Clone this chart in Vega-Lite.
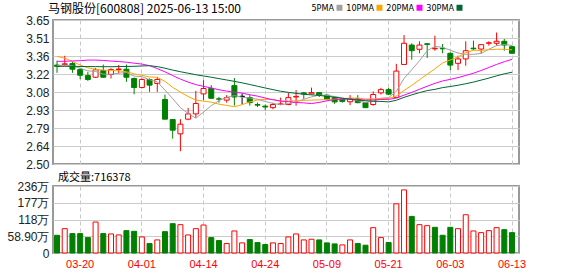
{
  "$schema": "https://vega.github.io/schema/vega-lite/v6.json",
  "background": "white",
  "padding": {"left": 5, "top": 2, "right": 5, "bottom": 2},
  "bounds": "flush",
  "spacing": 22,
  "config": {
    "font": "Liberation Sans",
    "view": {"stroke": "#999999", "strokeWidth": 2},
    "axis": {"labelFont": "Liberation Sans", "labelOverlap": false, "ticks": false, "domain": false, "title": null},
    "axisY": {"labelOverlap": false}
  },
  "datasets": {
    "k": [
      {"date": "2025-03-17", "open": 3.29, "high": 3.325, "low": 3.228, "close": 3.28, "pre_close": 3.30, "volume": 623000, "ma5": 3.285, "ma10": 3.36, "ma20": 3.32, "ma30": 3.28},
      {"date": "2025-03-18", "open": 3.294, "high": 3.364, "low": 3.284, "close": 3.30, "pre_close": 3.28, "volume": 856000, "ma5": 3.29, "ma10": 3.345, "ma20": 3.32, "ma30": 3.28},
      {"date": "2025-03-19", "open": 3.302, "high": 3.316, "low": 3.228, "close": 3.257, "pre_close": 3.30, "volume": 682000, "ma5": 3.285, "ma10": 3.32, "ma20": 3.323, "ma30": 3.28},
      {"date": "2025-03-20", "open": 3.254, "high": 3.268, "low": 3.177, "close": 3.209, "pre_close": 3.257, "volume": 682000, "ma5": 3.265, "ma10": 3.29, "ma20": 3.325, "ma30": 3.279},
      {"date": "2025-03-21", "open": 3.206, "high": 3.236, "low": 3.164, "close": 3.175, "pre_close": 3.209, "volume": 542000, "ma5": 3.244, "ma10": 3.268, "ma20": 3.33, "ma30": 3.278},
      {"date": "2025-03-24", "open": 3.193, "high": 3.268, "low": 3.188, "close": 3.252, "pre_close": 3.175, "volume": 1089000, "ma5": 3.239, "ma10": 3.257, "ma20": 3.33, "ma30": 3.278},
      {"date": "2025-03-25", "open": 3.246, "high": 3.294, "low": 3.19, "close": 3.193, "pre_close": 3.252, "volume": 682000, "ma5": 3.217, "ma10": 3.25, "ma20": 3.327, "ma30": 3.277},
      {"date": "2025-03-26", "open": 3.215, "high": 3.265, "low": 3.183, "close": 3.254, "pre_close": 3.193, "volume": 670000, "ma5": 3.217, "ma10": 3.248, "ma20": 3.322, "ma30": 3.277},
      {"date": "2025-03-27", "open": 3.255, "high": 3.29, "low": 3.222, "close": 3.258, "pre_close": 3.254, "volume": 635000, "ma5": 3.226, "ma10": 3.244, "ma20": 3.318, "ma30": 3.278},
      {"date": "2025-03-28", "open": 3.257, "high": 3.294, "low": 3.156, "close": 3.193, "pre_close": 3.258, "volume": 786000, "ma5": 3.23, "ma10": 3.237, "ma20": 3.313, "ma30": 3.279},
      {"date": "2025-03-31", "open": 3.183, "high": 3.19, "low": 3.057, "close": 3.111, "pre_close": 3.193, "volume": 763000, "ma5": 3.202, "ma10": 3.22, "ma20": 3.305, "ma30": 3.28},
      {"date": "2025-04-01", "open": 3.111, "high": 3.183, "low": 3.103, "close": 3.175, "pre_close": 3.111, "volume": 565000, "ma5": 3.198, "ma10": 3.208, "ma20": 3.298, "ma30": 3.283},
      {"date": "2025-04-02", "open": 3.175, "high": 3.183, "low": 3.076, "close": 3.13, "pre_close": 3.175, "volume": 332000, "ma5": 3.173, "ma10": 3.195, "ma20": 3.285, "ma30": 3.285},
      {"date": "2025-04-03", "open": 3.143, "high": 3.196, "low": 3.076, "close": 3.175, "pre_close": 3.13, "volume": 460000, "ma5": 3.157, "ma10": 3.192, "ma20": 3.262, "ma30": 3.278},
      {"date": "2025-04-07", "open": 3.015, "high": 3.055, "low": 2.858, "close": 2.858, "pre_close": 3.175, "volume": 751000, "ma5": 3.09, "ma10": 3.16, "ma20": 3.236, "ma30": 3.265},
      {"date": "2025-04-08", "open": 2.855, "high": 2.855, "low": 2.703, "close": 2.77, "pre_close": 2.858, "volume": 1031000, "ma5": 3.022, "ma10": 3.112, "ma20": 3.206, "ma30": 3.25},
      {"date": "2025-04-09", "open": 2.741, "high": 2.858, "low": 2.602, "close": 2.818, "pre_close": 2.77, "volume": 996000, "ma5": 2.95, "ma10": 3.074, "ma20": 3.178, "ma30": 3.237},
      {"date": "2025-04-10", "open": 2.858, "high": 2.948, "low": 2.85, "close": 2.90, "pre_close": 2.818, "volume": 635000, "ma5": 2.904, "ma10": 3.039, "ma20": 3.154, "ma30": 3.225},
      {"date": "2025-04-11", "open": 2.90, "high": 3.084, "low": 2.868, "close": 2.983, "pre_close": 2.90, "volume": 856000, "ma5": 2.866, "ma10": 3.011, "ma20": 3.134, "ma30": 3.213},
      {"date": "2025-04-14", "open": 3.06, "high": 3.17, "low": 3.01, "close": 3.103, "pre_close": 2.983, "volume": 984000, "ma5": 2.915, "ma10": 3.002, "ma20": 3.12, "ma30": 3.203},
      {"date": "2025-04-15", "open": 3.104, "high": 3.13, "low": 3.02, "close": 3.025, "pre_close": 3.103, "volume": 542000, "ma5": 2.966, "ma10": 2.994, "ma20": 3.107, "ma30": 3.193},
      {"date": "2025-04-16", "open": 3.02, "high": 3.036, "low": 2.99, "close": 3.018, "pre_close": 3.025, "volume": 437000, "ma5": 3.006, "ma10": 2.978, "ma20": 3.093, "ma30": 3.182},
      {"date": "2025-04-17", "open": 3.01, "high": 3.05, "low": 2.99, "close": 3.03, "pre_close": 3.018, "volume": 332000, "ma5": 3.032, "ma10": 2.968, "ma20": 3.082, "ma30": 3.171},
      {"date": "2025-04-18", "open": 3.126, "high": 3.187, "low": 2.966, "close": 3.035, "pre_close": 3.03, "volume": 775000, "ma5": 3.046, "ma10": 2.957, "ma20": 3.074, "ma30": 3.16},
      {"date": "2025-04-21", "open": 3.04, "high": 3.063, "low": 2.975, "close": 3.04, "pre_close": 3.035, "volume": 355000, "ma5": 3.033, "ma10": 2.974, "ma20": 3.066, "ma30": 3.148},
      {"date": "2025-04-22", "open": 3.03, "high": 3.05, "low": 2.966, "close": 2.99, "pre_close": 3.04, "volume": 472000, "ma5": 3.027, "ma10": 2.996, "ma20": 3.053, "ma30": 3.135},
      {"date": "2025-04-23", "open": 2.975, "high": 2.99, "low": 2.955, "close": 2.97, "pre_close": 2.99, "volume": 367000, "ma5": 3.017, "ma10": 3.011, "ma20": 3.042, "ma30": 3.121},
      {"date": "2025-04-24", "open": 2.962, "high": 2.975, "low": 2.93, "close": 2.955, "pre_close": 2.97, "volume": 297000, "ma5": 2.999, "ma10": 3.016, "ma20": 3.027, "ma30": 3.107},
      {"date": "2025-04-25", "open": 2.95, "high": 2.99, "low": 2.937, "close": 2.975, "pre_close": 2.955, "volume": 355000, "ma5": 2.984, "ma10": 3.016, "ma20": 3.013, "ma30": 3.094},
      {"date": "2025-04-28", "open": 2.975, "high": 3.03, "low": 2.97, "close": 2.98, "pre_close": 2.975, "volume": 332000, "ma5": 2.974, "ma10": 3.002, "ma20": 3.002, "ma30": 3.081},
      {"date": "2025-04-29", "open": 2.975, "high": 3.068, "low": 2.97, "close": 3.03, "pre_close": 2.98, "volume": 565000, "ma5": 2.982, "ma10": 3.003, "ma20": 2.998, "ma30": 3.072},
      {"date": "2025-04-30", "open": 3.035, "high": 3.09, "low": 2.966, "close": 3.04, "pre_close": 3.03, "volume": 670000, "ma5": 2.996, "ma10": 3.005, "ma20": 2.992, "ma30": 3.064},
      {"date": "2025-05-06", "open": 3.068, "high": 3.075, "low": 3.02, "close": 3.06, "pre_close": 3.04, "volume": 460000, "ma5": 3.017, "ma10": 3.008, "ma20": 2.988, "ma30": 3.057},
      {"date": "2025-05-07", "open": 3.06, "high": 3.11, "low": 3.055, "close": 3.07, "pre_close": 3.06, "volume": 483000, "ma5": 3.036, "ma10": 3.01, "ma20": 2.983, "ma30": 3.052},
      {"date": "2025-05-08", "open": 3.07, "high": 3.07, "low": 3.035, "close": 3.05, "pre_close": 3.07, "volume": 460000, "ma5": 3.05, "ma10": 3.012, "ma20": 2.992, "ma30": 3.048},
      {"date": "2025-05-09", "open": 3.05, "high": 3.055, "low": 3.01, "close": 3.018, "pre_close": 3.05, "volume": 355000, "ma5": 3.048, "ma10": 3.015, "ma20": 3.005, "ma30": 3.04},
      {"date": "2025-05-12", "open": 3.03, "high": 3.035, "low": 2.98, "close": 2.996, "pre_close": 3.018, "volume": 320000, "ma5": 3.039, "ma10": 3.017, "ma20": 3.014, "ma30": 3.034},
      {"date": "2025-05-13", "open": 3.018, "high": 3.023, "low": 2.99, "close": 3.0, "pre_close": 2.996, "volume": 285000, "ma5": 3.027, "ma10": 3.022, "ma20": 3.018, "ma30": 3.025},
      {"date": "2025-05-14", "open": 2.997, "high": 3.05, "low": 2.97, "close": 3.02, "pre_close": 3.0, "volume": 460000, "ma5": 3.017, "ma10": 3.026, "ma20": 3.02, "ma30": 3.017},
      {"date": "2025-05-15", "open": 3.02, "high": 3.05, "low": 2.985, "close": 2.99, "pre_close": 3.02, "volume": 332000, "ma5": 3.005, "ma10": 3.027, "ma20": 3.015, "ma30": 3.011},
      {"date": "2025-05-16", "open": 2.99, "high": 2.99, "low": 2.95, "close": 2.95, "pre_close": 2.99, "volume": 274000, "ma5": 2.991, "ma10": 3.019, "ma20": 3.011, "ma30": 3.005},
      {"date": "2025-05-19", "open": 2.975, "high": 3.08, "low": 2.966, "close": 3.055, "pre_close": 2.95, "volume": 891000, "ma5": 3.003, "ma10": 3.021, "ma20": 3.012, "ma30": 3.001},
      {"date": "2025-05-20", "open": 3.068, "high": 3.108, "low": 3.055, "close": 3.094, "pre_close": 3.055, "volume": 542000, "ma5": 3.025, "ma10": 3.024, "ma20": 3.015, "ma30": 3.0},
      {"date": "2025-05-21", "open": 3.094, "high": 3.108, "low": 3.05, "close": 3.058, "pre_close": 3.094, "volume": 367000, "ma5": 3.03, "ma10": 3.023, "ma20": 3.016, "ma30": 2.996},
      {"date": "2025-05-22", "open": 3.03, "high": 3.30, "low": 3.03, "close": 3.242, "pre_close": 3.058, "volume": 1730000, "ma5": 3.08, "ma10": 3.042, "ma20": 3.027, "ma30": 3.009},
      {"date": "2025-05-23", "open": 3.295, "high": 3.53, "low": 3.295, "close": 3.464, "pre_close": 3.242, "volume": 2219000, "ma5": 3.183, "ma10": 3.087, "ma20": 3.05, "ma30": 3.032},
      {"date": "2025-05-26", "open": 3.45, "high": 3.464, "low": 3.333, "close": 3.405, "pre_close": 3.464, "volume": 1287000, "ma5": 3.253, "ma10": 3.128, "ma20": 3.072, "ma30": 3.052},
      {"date": "2025-05-27", "open": 3.416, "high": 3.48, "low": 3.384, "close": 3.45, "pre_close": 3.405, "volume": 996000, "ma5": 3.324, "ma10": 3.173, "ma20": 3.097, "ma30": 3.07},
      {"date": "2025-05-28", "open": 3.46, "high": 3.466, "low": 3.347, "close": 3.455, "pre_close": 3.45, "volume": 961000, "ma5": 3.405, "ma10": 3.217, "ma20": 3.121, "ma30": 3.086},
      {"date": "2025-05-29", "open": 3.42, "high": 3.525, "low": 3.405, "close": 3.424, "pre_close": 3.455, "volume": 903000, "ma5": 3.44, "ma10": 3.26, "ma20": 3.144, "ma30": 3.096},
      {"date": "2025-05-30", "open": 3.424, "high": 3.458, "low": 3.384, "close": 3.42, "pre_close": 3.424, "volume": 623000, "ma5": 3.431, "ma10": 3.307, "ma20": 3.163, "ma30": 3.11},
      {"date": "2025-06-03", "open": 3.384, "high": 3.392, "low": 3.25, "close": 3.29, "pre_close": 3.42, "volume": 903000, "ma5": 3.409, "ma10": 3.331, "ma20": 3.176, "ma30": 3.119},
      {"date": "2025-06-04", "open": 3.304, "high": 3.365, "low": 3.25, "close": 3.339, "pre_close": 3.29, "volume": 856000, "ma5": 3.386, "ma10": 3.355, "ma20": 3.19, "ma30": 3.129},
      {"date": "2025-06-05", "open": 3.339, "high": 3.48, "low": 3.285, "close": 3.405, "pre_close": 3.339, "volume": 1346000, "ma5": 3.376, "ma10": 3.39, "ma20": 3.207, "ma30": 3.141},
      {"date": "2025-06-06", "open": 3.425, "high": 3.485, "low": 3.41, "close": 3.42, "pre_close": 3.405, "volume": 775000, "ma5": 3.376, "ma10": 3.408, "ma20": 3.225, "ma30": 3.154},
      {"date": "2025-06-09", "open": 3.418, "high": 3.453, "low": 3.384, "close": 3.453, "pre_close": 3.42, "volume": 716000, "ma5": 3.383, "ma10": 3.407, "ma20": 3.247, "ma30": 3.17},
      {"date": "2025-06-10", "open": 3.464, "high": 3.48, "low": 3.445, "close": 3.468, "pre_close": 3.453, "volume": 786000, "ma5": 3.417, "ma10": 3.413, "ma20": 3.271, "ma30": 3.186},
      {"date": "2025-06-11", "open": 3.464, "high": 3.55, "low": 3.445, "close": 3.48, "pre_close": 3.468, "volume": 891000, "ma5": 3.445, "ma10": 3.416, "ma20": 3.295, "ma30": 3.204},
      {"date": "2025-06-12", "open": 3.48, "high": 3.498, "low": 3.405, "close": 3.45, "pre_close": 3.48, "volume": 821000, "ma5": 3.454, "ma10": 3.416, "ma20": 3.317, "ma30": 3.22},
      {"date": "2025-06-13", "open": 3.437, "high": 3.445, "low": 3.384, "close": 3.384, "pre_close": 3.45, "volume": 716378, "ma5": 3.447, "ma10": 3.412, "ma20": 3.336, "ma30": 3.233}
    ]
  },
  "data": {"name": "k"},
  "vconcat": [
    {
      "width": 466,
      "height": 144,
      "title": {"text": "马钢股份[600808] 2025-06-13 15:00", "anchor": "start", "frame": "group", "dx": -5, "offset": -2, "fontSize": 12, "fontWeight": "normal", "font": "Noto Sans CJK SC", "color": "#000000"},
      "encoding": {
        "x": {
          "field": "date", "type": "ordinal", "sort": null,
          "scale": {"type": "band", "paddingInner": 0, "paddingOuter": 0.214, "align": 0.05},
          "axis": {"values": ["2025-03-20", "2025-04-01", "2025-04-14", "2025-04-24", "2025-05-09", "2025-05-21", "2025-06-03", "2025-06-13"], "bandPosition": 0.5, "labels": false, "grid": true, "gridDash": [4, 3], "gridColor": "#c8c8c8", "gridWidth": 1}
        }
      },
      "layer": [
        {
          "mark": {"type": "rule", "strokeWidth": 1},
          "encoding": {
            "y": {"field": "low", "type": "quantitative", "scale": {"domain": [2.5, 3.65], "nice": false, "zero": false},
              "axis": {"values": [2.5, 2.64375, 2.7875, 2.93125, 3.075, 3.21875, 3.3625, 3.50625, 3.65], "labelExpr": "format(datum.value + 0.0001, '.2f')", "labelOverlap": false, "labelSeparation": 0, "grid": true, "gridColor": "#cccccc", "labelFontSize": 12, "labelColor": "#222222", "labelPadding": 4}},
            "y2": {"field": "high"},
            "color": {"condition": [{"test": "datum.close > datum.open", "value": "#ff0000"}, {"test": "datum.close < datum.open", "value": "#008000"}], "value": "#000000"}
          }
        },
        {
          "mark": {"type": "bar", "size": 5, "strokeWidth": 1},
          "encoding": {
            "y": {"field": "open", "type": "quantitative", "scale": {"domain": [2.5, 3.65], "nice": false, "zero": false},
              "axis": {"values": [2.5, 2.64375, 2.7875, 2.93125, 3.075, 3.21875, 3.3625, 3.50625, 3.65], "labelExpr": "format(datum.value + 0.0001, '.2f')", "labelOverlap": false, "labelSeparation": 0, "grid": true, "gridColor": "#cccccc", "labelFontSize": 12, "labelColor": "#222222", "labelPadding": 4}},
            "y2": {"field": "close"},
            "fill": {"condition": [{"test": "datum.close > datum.open", "value": "#ffffff"}, {"test": "datum.close < datum.open", "value": "#008000"}], "value": "#000000"},
            "stroke": {"condition": [{"test": "datum.close > datum.open", "value": "#ff0000"}, {"test": "datum.close < datum.open", "value": "#008000"}], "value": "#000000"}
          }
        },
        {
          "transform": [{"fold": ["ma5", "ma10", "ma20", "ma30"], "as": ["ma", "val"]}],
          "mark": {"type": "line", "strokeWidth": 1},
          "encoding": {
            "y": {"field": "val", "type": "quantitative", "scale": {"domain": [2.5, 3.65], "nice": false, "zero": false},
              "axis": {"values": [2.5, 2.64375, 2.7875, 2.93125, 3.075, 3.21875, 3.3625, 3.50625, 3.65], "labelExpr": "format(datum.value + 0.0001, '.2f')", "labelOverlap": false, "labelSeparation": 0, "grid": true, "gridColor": "#cccccc", "labelFontSize": 12, "labelColor": "#222222", "labelPadding": 4}},
            "color": {
              "field": "ma", "type": "nominal",
              "scale": {"domain": ["ma5", "ma10", "ma20", "ma30"], "range": ["#a0a0a0", "#ffa500", "#ff00ff", "#006633"]},
              "legend": {
                "orient": "none", "legendX": 282, "legendY": -17, "direction": "horizontal", "title": null,
                "labelExpr": "datum.label == 'ma5' ? '5PMA' : datum.label == 'ma10' ? '10PMA' : datum.label == 'ma20' ? '20PMA' : '30PMA'",
                "symbolType": "square", "symbolSize": 36, "symbolStrokeWidth": 0,
                "labelAlign": "right", "labelOffset": -10, "labelFontSize": 9,
                "labelFont": "DejaVu Sans Condensed, Liberation Sans",
                "labelColor": "#000000", "columnPadding": 3,
                "encode": {"symbols": {"update": {"fill": {"scale": "color", "field": "value"}}}}
              }
            }
          }
        }
      ]
    },
    {
      "width": 466,
      "height": 67,
      "title": {"text": "成交量:716378", "anchor": "start", "frame": "group", "dx": 5, "dy": 7, "offset": 4, "fontSize": 11, "fontWeight": "normal", "font": "Noto Sans CJK SC", "color": "#000000"},
      "mark": {"type": "bar", "size": 5, "strokeWidth": 1},
      "encoding": {
        "x": {
          "field": "date", "type": "ordinal", "sort": null,
          "scale": {"type": "band", "paddingInner": 0, "paddingOuter": 0.214, "align": 0.05},
          "axis": {"values": ["2025-03-20", "2025-04-01", "2025-04-14", "2025-04-24", "2025-05-09", "2025-05-21", "2025-06-03", "2025-06-13"], "bandPosition": 0.5, "labelExpr": "slice(datum.value, 5)", "labelAngle": 0, "labelColor": "#ff0000", "labelFontSize": 11, "labelPadding": 5, "grid": true, "gridDash": [4, 3], "gridColor": "#c8c8c8", "gridWidth": 1}
        },
        "y": {
          "field": "volume", "type": "quantitative", "scale": {"domain": [0, 2356000], "nice": false},
          "axis": {"values": [0, 589000, 1178000, 1767000, 2356000], "labelExpr": "datum.value == 0 ? '0' : datum.value == 589000 ? '58.90万' : format(datum.value / 10000, '.0f') + '万'", "labelOverlap": false, "grid": true, "gridColor": "#cccccc", "labelFontSize": 12, "labelColor": "#222222", "labelPadding": 4}
        },
        "fill": {"condition": {"test": "datum.close >= datum.pre_close", "value": "#ffffff"}, "value": "#008000"},
        "stroke": {"condition": {"test": "datum.close >= datum.pre_close", "value": "#ff0000"}, "value": "#008000"}
      }
    }
  ]
}
